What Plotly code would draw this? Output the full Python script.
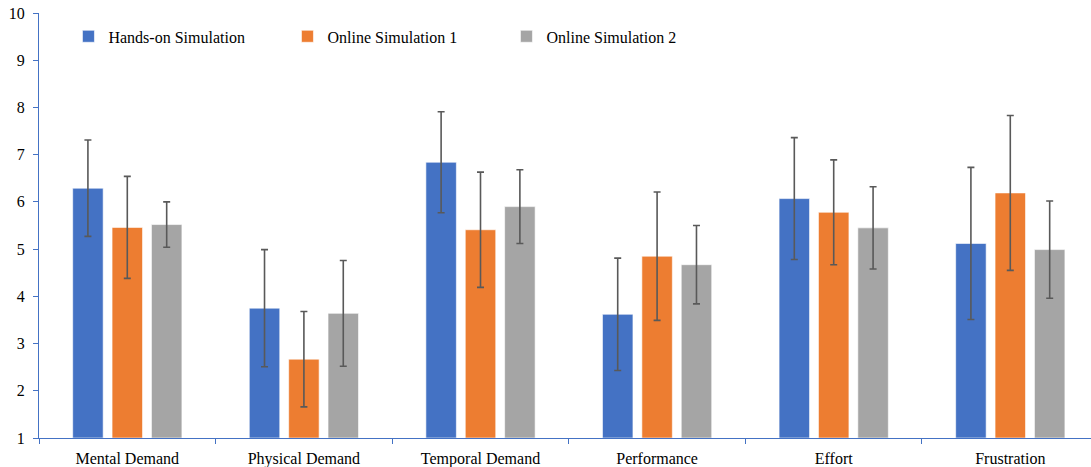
import plotly.graph_objects as go

categories = ["Mental Demand", "Physical Demand", "Temporal Demand", "Performance", "Effort", "Frustration"]
series_names = ["Hands-on Simulation", "Online Simulation 1", "Online Simulation 2"]
hands_on = [6.29, 3.75, 6.84, 3.62, 6.07, 5.12]
hands_on_err = [1.02, 1.24, 1.07, 1.19, 1.29, 1.61]
online1 = [5.46, 2.67, 5.41, 4.85, 5.78, 6.19]
online1_err = [1.08, 1.01, 1.22, 1.36, 1.11, 1.64]
online2 = [5.52, 3.64, 5.90, 4.67, 5.45, 4.99]
online2_err = [0.48, 1.12, 0.78, 0.83, 0.87, 1.03]
y_ticks = [1, 2, 3, 4, 5, 6, 7, 8, 9, 10]

colors = ["#4472C4", "#ED7D31", "#A5A5A5"]
font = "Liberation Serif, Times New Roman, serif"

fig = go.Figure()
for name, vals, errs, col in zip(series_names, [hands_on, online1, online2],
                                  [hands_on_err, online1_err, online2_err], colors):
    fig.add_trace(go.Bar(
        name=name, x=categories, y=[v - 1 for v in vals], base=1,
        marker=dict(color=col, line=dict(color="rgba(255,255,255,0.6)", width=1)),
        error_y=dict(type="data", array=errs, visible=True, color="#595959",
                     thickness=1.6, width=3.5),
    ))

fig.update_layout(
    width=1091, height=467,
    margin=dict(l=39, r=0, t=13, b=29),
    paper_bgcolor="white", plot_bgcolor="white",
    barmode="group", bargap=0.331, bargroupgap=0.226,
    font=dict(family=font, size=16, color="black"),
    showlegend=True,
    legend=dict(orientation="h", x=0.028, y=0.985, xanchor="left", yanchor="top",
                entrywidth=174, entrywidthmode="pixels", itemwidth=30,
                font=dict(family=font, size=16, color="black"),
                bgcolor="rgba(0,0,0,0)"),
    xaxis=dict(type="category", range=[-0.5, 5.457], showline=True, linecolor="#4472C4",
               linewidth=1.3, ticks="outside", tickson="boundaries", ticklen=5,
               tickcolor="#4472C4", showgrid=False, ticklabelstandoff=6,
               tickfont=dict(family=font, size=16)),
    yaxis=dict(range=[1, 10], tickvals=y_ticks, showline=True, linecolor="#4472C4",
               linewidth=1.3, ticks="outside", ticklen=5, tickcolor="#4472C4",
               showgrid=False, zeroline=False, ticklabelstandoff=5,
               ticklabeloverflow="allow",
               tickfont=dict(family=font, size=16)),
)
fig.write_html("out.html", config={"displayModeBar": False},
               post_script="document.body.style.margin='0px';document.body.style.overflow='hidden';")
